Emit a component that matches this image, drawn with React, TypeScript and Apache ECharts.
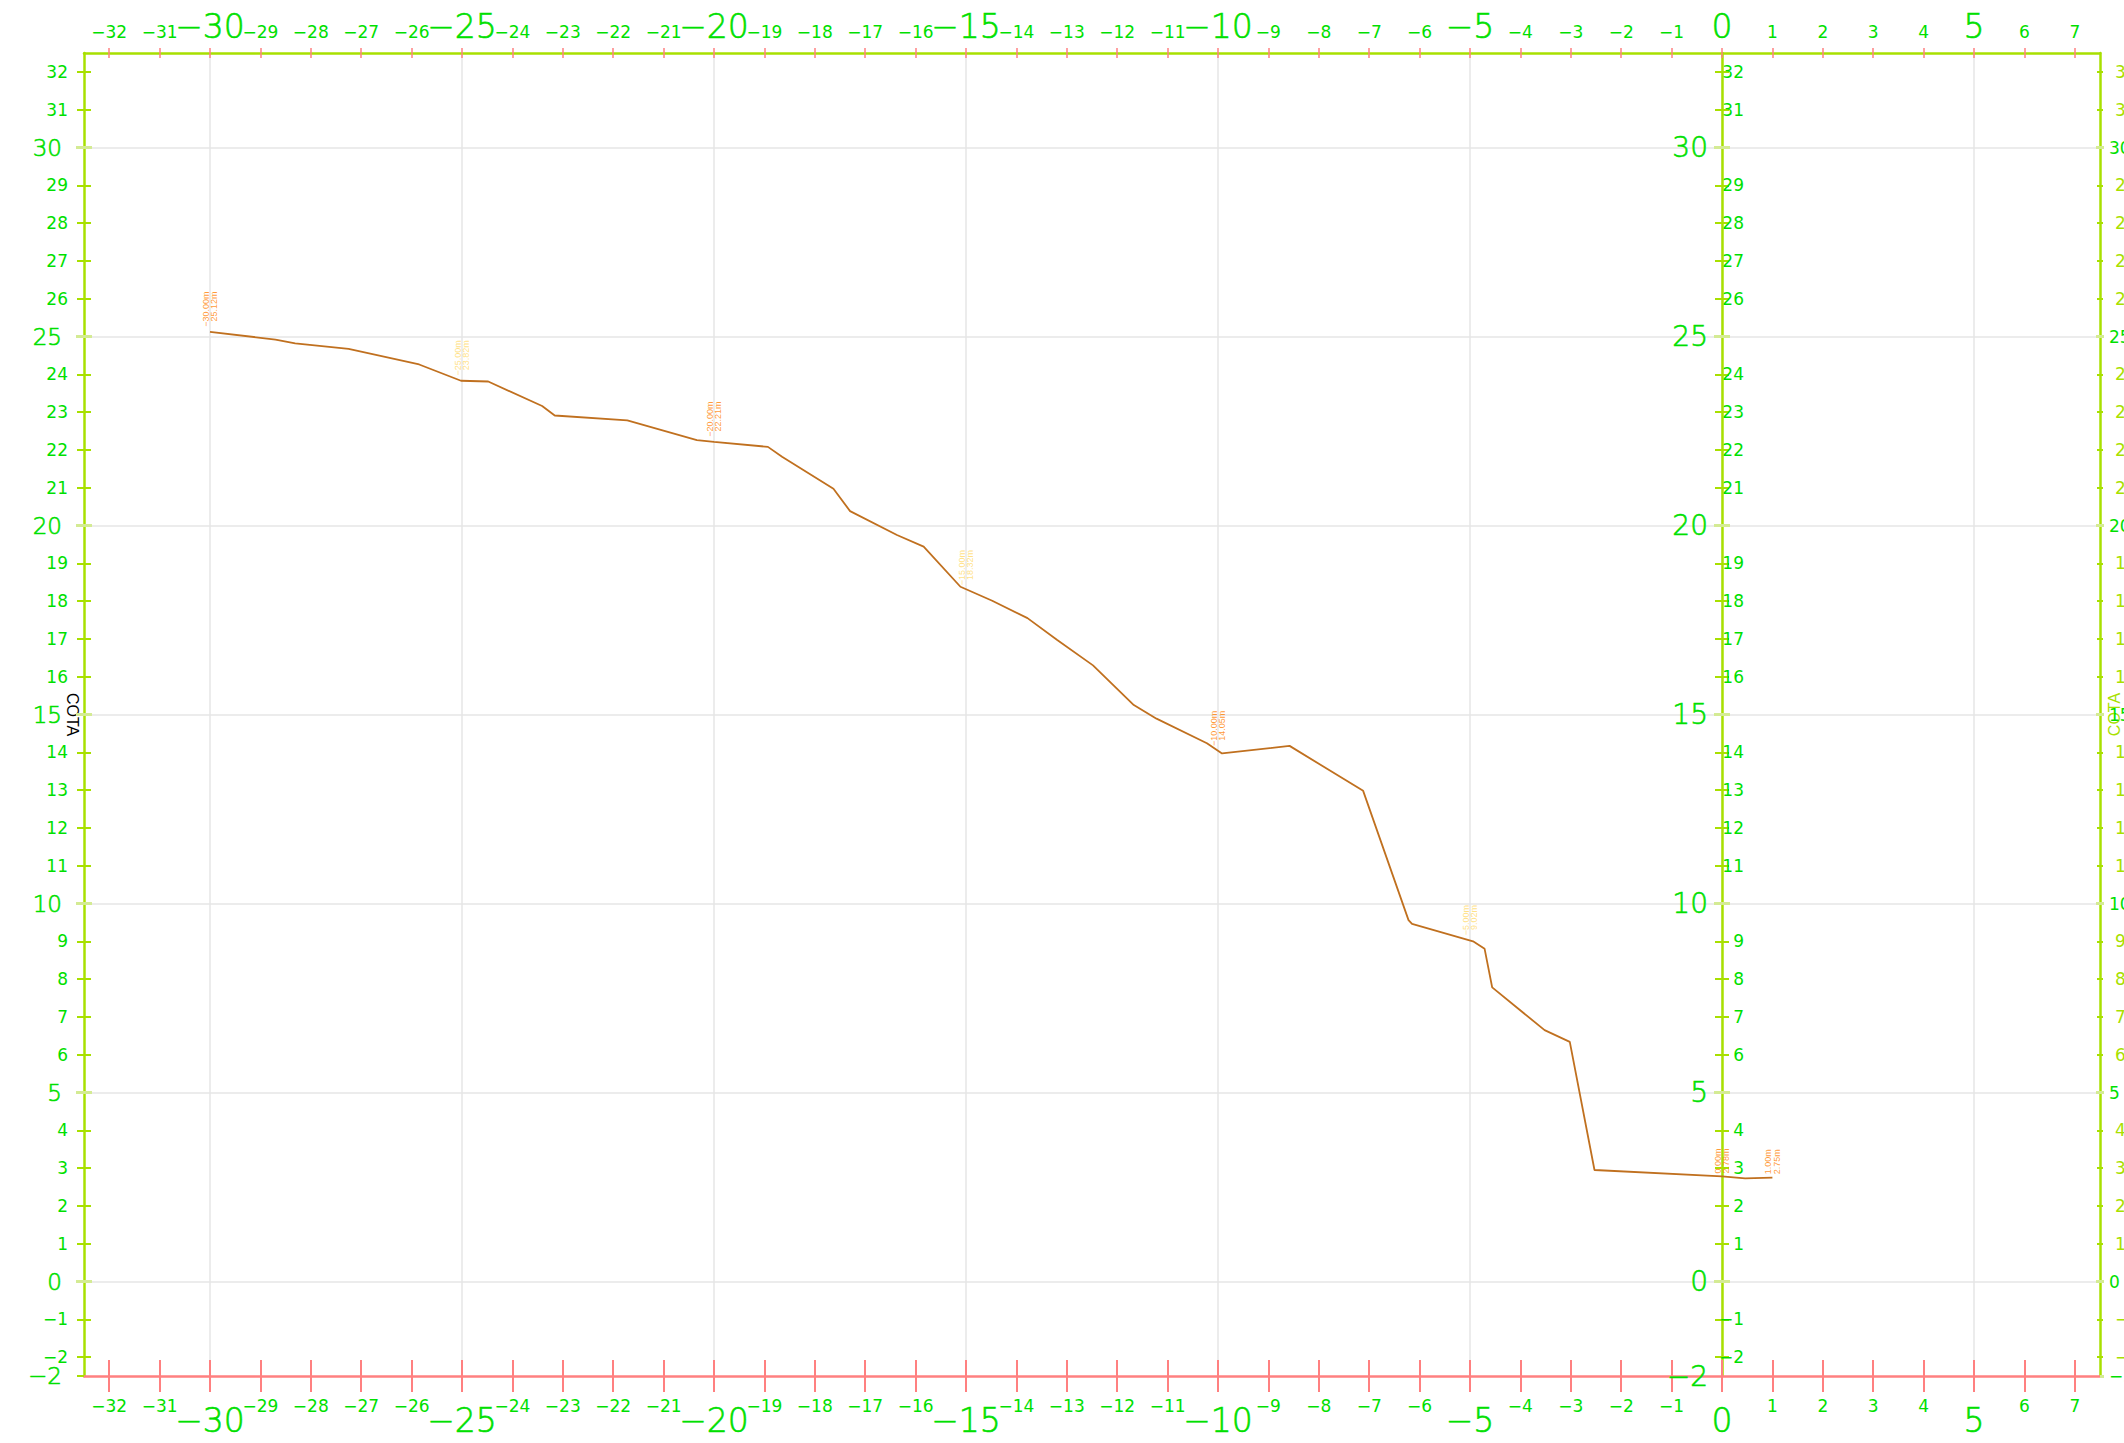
import React, { useEffect, useRef } from "react";
import * as echarts from "echarts";

const riverX = [-30, -28.7, -28.31, -27.25, -25.85, -25.02, -24.48, -23.41, -23.16, -21.72, -20.34, -20, -18.93, -18.65, -17.63, -17.3, -16.37, -15.84, -15.11, -14.48, -13.78, -13.19, -12.48, -11.67, -11.22, -10.22, -9.92, -8.58, -7.12, -6.22, -6.15, -4.94, -4.71, -4.56, -3.52, -3.02, -2.53, 0, 0.46, 1];
const riverY = [25.12, 24.92, 24.82, 24.67, 24.26, 23.83, 23.81, 23.16, 22.91, 22.78, 22.26, 22.21, 22.08, 21.82, 20.97, 20.38, 19.75, 19.44, 18.38, 18.01, 17.55, 16.97, 16.3, 15.25, 14.89, 14.24, 13.97, 14.17, 12.98, 9.56, 9.46, 9.0, 8.8, 7.78, 6.65, 6.34, 2.95, 2.78, 2.73, 2.75];

const orangeLabelX = [-30, -20, -10, 0, 1];
const orangeLabelTop = [26.19, 23.28, 15.1, 3.52, 3.5];
const orangeLabelText = ["−30.00m\n25.12m", "−20.00m\n22.21m", "−10.00m\n14.05m", "0.00m\n2.78m", "1.00m\n2.75m"];
const paleLabelX = [-25, -15, -5];
const paleLabelTop = [24.9, 19.35, 9.96];
const paleLabelText = ["−25.00m\n23.82m", "−15.00m\n18.32m", "−5.00m\n9.02m"];

const minorXTicks = [-32, -31, -29, -28, -27, -26, -24, -23, -22, -21, -19, -18, -17, -16, -14, -13, -12, -11, -9, -8, -7, -6, -4, -3, -2, -1, 1, 2, 3, 4, 6, 7];
const majorXTicks = [-30, -25, -20, -15, -10, -5, 0, 5];
const minorYTicks = [-2, -1, 1, 2, 3, 4, 6, 7, 8, 9, 11, 12, 13, 14, 16, 17, 18, 19, 21, 22, 23, 24, 26, 27, 28, 29, 31, 32];
const majorYTicks = [0, 5, 10, 15, 20, 25, 30];
const majorYWithEdge = [-2.5, 0, 5, 10, 15, 20, 25, 30];
const edgeYTick = [-2.5];

const X_MIN = -32.5, X_MAX = 7.5, Y_MIN = -2.5, Y_MAX = 32.5;
const GL = 84, GT = 53, GW = 2016, GH = 1323;
const MID = GL + ((0 - X_MIN) / (X_MAX - X_MIN)) * GW;

const GREEN = "#00e000";
const LIME = "#a8e000";
const PALE = "#d4eb94";
const RED = "#ff8080";
const GRID = "#e6e6e6";
const FONT = "DejaVu Sans";
const SMALL = 17;
const BIG_X = 33;
const BIG_Y_LEFT = 23;
const BIG_Y_MID = 28;

const fmt = (v: number) => {
  const t = Math.trunc(v);
  return t < 0 ? "−" + Math.abs(t) : String(t);
};

type TickOpt = { values: number[]; len: number; inside: boolean; color: string; width?: number };
const hiddenLine = { show: false, onZero: false };

const labelStyle = (l: any) => ({
  show: true,
  customValues: l.values,
  formatter: fmt,
  fontSize: l.size,
  fontFamily: FONT,
  fontWeight: l.weight ?? 400,
  color: l.color ?? GREEN,
  margin: l.margin,
  align: l.align,
  hideOverlap: false,
  ...(l.weight ? { textBorderColor: GREEN, textBorderWidth: 0.6 } : {}),
});

function xAxis(position: "top" | "bottom", tick: TickOpt, label?: any, extra: any = {}) {
  return {
    type: "value", gridIndex: 0, position, min: X_MIN, max: X_MAX,
    axisLine: hiddenLine,
    axisTick: { show: true, customValues: tick.values, length: tick.len, inside: tick.inside, lineStyle: { color: tick.color, width: tick.width ?? 1.5 } },
    axisLabel: label ? labelStyle(label) : { show: false },
    splitLine: { show: false },
    ...extra,
  };
}

function yAxis(position: "left" | "right", offset: number, tick: TickOpt, label?: any, extra: any = {}) {
  return {
    type: "value", gridIndex: 0, position, offset, min: Y_MIN, max: Y_MAX,
    axisLine: hiddenLine,
    axisTick: { show: true, customValues: tick.values, length: tick.len, inside: tick.inside, lineStyle: { color: tick.color, width: tick.width ?? 2 } },
    axisLabel: label ? labelStyle(label) : { show: false },
    splitLine: { show: false },
    ...extra,
  };
}

const midOffset = -(GL + GW - MID);
const splitStyle = { show: true, lineStyle: { color: GRID, width: 1.5 } };

function buildOption(): any {
  const allX = [...minorXTicks, ...majorXTicks];
  const xAxes = [
    xAxis("bottom", { values: majorXTicks, len: 16, inside: false, color: RED, width: 2 }, undefined, {
      axisLine: { show: true, onZero: false, lineStyle: { color: RED, width: 2.5 } },
      splitLine: splitStyle,
    }),
    xAxis("bottom", { values: minorXTicks, len: 16, inside: false, color: RED, width: 2 }, { values: minorXTicks, size: SMALL, margin: 21 }),
    xAxis("bottom", { values: allX, len: 16, inside: true, color: RED, width: 2 }, { values: majorXTicks, size: BIG_X, margin: 28, weight: 200 }),
    xAxis("top", { values: allX, len: 5, inside: false, color: RED, width: 1.5 }, { values: minorXTicks, size: SMALL, margin: 13 }, {
      axisLine: { show: true, onZero: false, lineStyle: { color: LIME, width: 2.5 } },
    }),
    xAxis("top", { values: allX, len: 5, inside: true, color: RED, width: 1.5 }, { values: majorXTicks, size: BIG_X, margin: 10, weight: 200 }),
  ];
  const yAxes = [
    // left frame
    yAxis("left", 0, { values: majorYTicks, len: 8, inside: false, color: PALE, width: 3 }, undefined, {
      axisLine: { show: true, onZero: false, lineStyle: { color: LIME, width: 2.5 } },
      splitLine: splitStyle,
    }),
    yAxis("left", 0, { values: majorYTicks, len: 8, inside: true, color: PALE, width: 3 }),
    yAxis("left", 0, { values: minorYTicks, len: 7, inside: false, color: LIME }, { values: minorYTicks, size: SMALL, margin: 16, align: "right" }),
    yAxis("left", 0, { values: minorYTicks, len: 7, inside: true, color: LIME }, undefined, {
      name: "COTA", nameLocation: "middle", nameRotate: -90, nameGap: 4, nameMoveOverlap: false,
      nameTextStyle: { color: "#000", fontSize: 16, fontFamily: "Liberation Sans" },
    }),
    yAxis("left", 0, { values: edgeYTick, len: 7, inside: false, color: LIME }, { values: majorYWithEdge, size: BIG_Y_LEFT, margin: 22, weight: 200, align: "right" }),
    // zero line of the chart
    yAxis("right", midOffset, { values: minorYTicks, len: 7, inside: false, color: LIME }, { values: minorYTicks, size: SMALL, margin: 22, align: "right" }, {
      axisLine: { show: true, onZero: false, lineStyle: { color: LIME, width: 2.5 } },
    }),
    yAxis("right", midOffset, { values: minorYTicks, len: 7, inside: true, color: LIME }),
    yAxis("right", midOffset, { values: majorYTicks, len: 8, inside: false, color: PALE, width: 3 }),
    yAxis("right", midOffset, { values: majorYTicks, len: 8, inside: true, color: PALE, width: 3 }, { values: majorYWithEdge, size: BIG_Y_MID, margin: -14, weight: 200, align: "right" }),
    // right frame
    yAxis("right", 0, { values: minorYTicks, len: 3, inside: false, color: LIME }, { values: minorYTicks, size: SMALL, margin: 15, color: LIME, align: "left" }, {
      axisLine: { show: true, onZero: false, lineStyle: { color: LIME, width: 2.5 } },
    }),
    yAxis("right", 0, { values: minorYTicks, len: 3, inside: true, color: LIME }, undefined, {
      name: "COTA", nameLocation: "middle", nameRotate: 90, nameGap: 6, nameMoveOverlap: false,
      nameTextStyle: { color: LIME, fontSize: 16, fontFamily: "Liberation Sans" },
    }),
    yAxis("right", 0, { values: majorYTicks, len: 4, inside: true, color: PALE, width: 3 }),
    yAxis("right", 0, { values: majorYWithEdge, len: 4, inside: false, color: PALE, width: 3 }, { values: majorYWithEdge, size: SMALL, margin: 9, align: "left" }),
  ];
  const labelSeries = (xs: number[], tops: number[], texts: string[], color: string) => ({
    type: "scatter",
    symbol: "circle",
    symbolSize: 1,
    itemStyle: { color: "transparent" },
    silent: true,
    data: xs.map((x, i) => ({ value: [x, tops[i]], name: texts[i] })),
    label: {
      show: true, position: "inside", rotate: 90, align: "right", verticalAlign: "middle",
      formatter: (p: any) => p.name, color, fontSize: 9, lineHeight: 8.5, fontFamily: "Liberation Sans",
    },
    z: 4,
  });
  return {
    animation: false,
    backgroundColor: "#fff",
    grid: { left: GL, top: GT, width: GW, height: GH, containLabel: false, outerBoundsMode: "none" },
    xAxis: xAxes,
    yAxis: yAxes,
    series: [
      {
        type: "line", silent: true, showSymbol: false, symbol: "none",
        data: riverX.map((x, i) => [x, riverY[i]]),
        lineStyle: { color: "#c0701f", width: 1.8 }, z: 3,
      },
      labelSeries(orangeLabelX, orangeLabelTop, orangeLabelText, "#ff8000"),
      labelSeries(paleLabelX, paleLabelTop, paleLabelText, "#ffd966"),
    ],
  };
}

export default function App() {
  const ref = useRef<HTMLDivElement>(null);
  useEffect(() => {
    document.body.style.margin = "0";
    const chart = echarts.init(ref.current!, undefined, { renderer: "svg" });
    chart.setOption(buildOption());
    return () => chart.dispose();
  }, []);
  return <div ref={ref} style={{ width: 2124, height: 1443 }} />;
}
